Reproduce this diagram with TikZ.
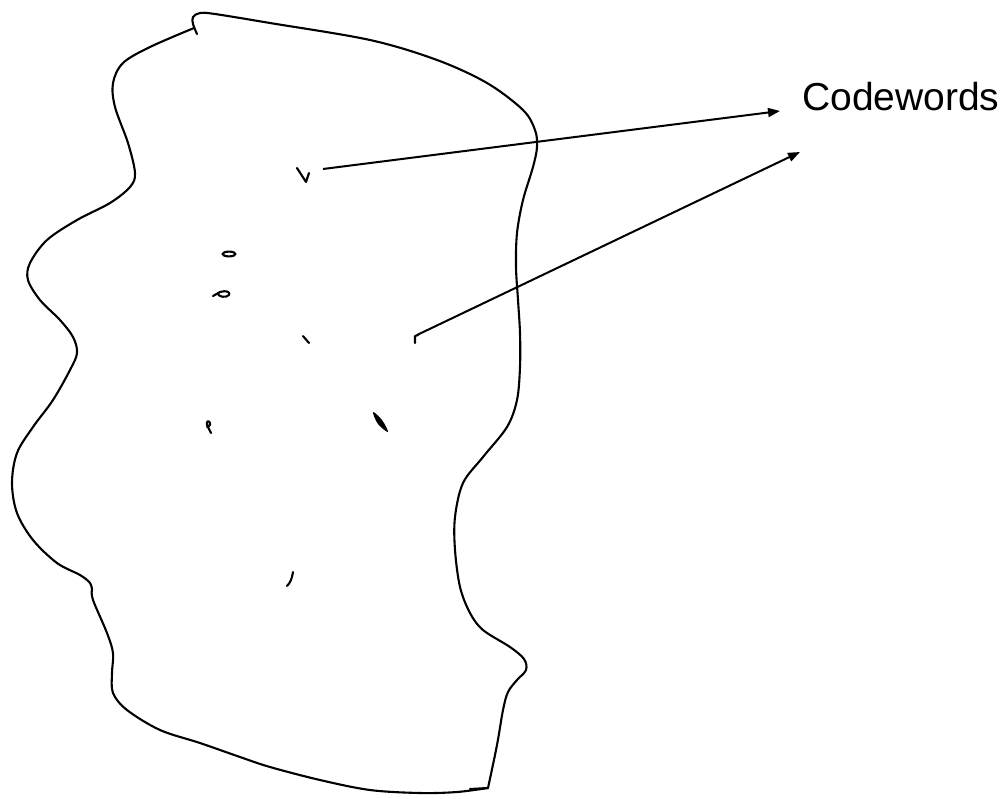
\documentclass[tikz,border=0pt]{standalone}
\usepackage{fontspec}
\setmainfont{Liberation Sans}
\usetikzlibrary{arrows.meta}
\begin{document}
\begin{tikzpicture}[x=1pt,y=-1pt,
  outline/.style={line width=2.1pt,line join=round,line cap=round},
  scribble/.style={line width=2.1pt,line cap=round,line join=round},
  pointer/.style={line width=2pt,-{Triangle[length=12pt,width=9pt]}},
  wordlabel/.style={font=\fontsize{39}{46}\selectfont,inner sep=0pt,anchor=base west}]
\useasboundingbox (0,0) rectangle (1006,798);
% blob outline
\draw[outline] plot[smooth,tension=0.55] coordinates {(197,34) (193,24) (193,17) (200,13) (215,14) (270,23) (370,40) (437,60) (487,83) (523,110) (535,130) (537,147) (533,167) (523,200) (517,233) (516,267) (518,300) (520,333) (520,367) (517,400) (507,427) (483,457) (463,483) (455,517) (455,550) (460,587) (470,613) (483,630) (510,647) (524,659) (526,670) (517,680) (508,692) (503,710) (497,745) (488,788)};
\draw[outline] plot[smooth,tension=0.55] coordinates {(470,789) (488,788)};
\draw[outline] plot[smooth,tension=0.55] coordinates {(488,788) (457,792) (420,793) (370,790) (320,780) (270,767) (240,757) (200,743) (160,730) (127,710) (113,693) (112,673) (113,653) (107,633) (93,600) (92,590)};
\draw[outline] plot[smooth,tension=0.55] coordinates {(92,590) (90,583) (80,575) (57,563) (33,540) (17,513) (12,483) (17,453) (33,427) (53,400) (70,370) (77,353) (73,337) (60,320) (40,300) (28,280) (30,263) (47,240) (77,220) (110,203) (130,187) (135,173) (128,143) (115,107) (113,83) (123,63) (150,47) (194,28)};
% small marks (codewords)
\draw[scribble] (297,168) -- (306,182) -- (309,173);
\draw[scribble] (229,254) ellipse [x radius=6.5pt,y radius=2.4pt];
\draw[scribble] (213,296) -- (220,292) .. controls (226,290) and (231,292) .. (229,295) .. controls (226,298) and (219,297) .. (218,294);
\draw[scribble] (303,336) -- (309,343);
\draw[scribble] (211,433) -- (207,425) .. controls (206,421) and (209,420) .. (210,423) .. controls (211,426) and (207,427) .. (207,427);
\fill plot[smooth cycle,tension=0.6] coordinates {(373,412) (382,420) (388,432) (378,424)};
\draw[scribble] (293,572) .. controls (292,579) and (290,583) .. (287,586);
\draw[scribble] (415,343) -- (415,336) -- (418,335);
% label and pointers
\node[wordlabel] (cw) at (802,110) {Codewords};
\coordinate (s1) at (323,169);
\coordinate (e1) at (780,111);
\coordinate (s2) at (417,335);
\coordinate (e2) at (800,152);
\draw[pointer] (s1) -- (e1);
\draw[pointer] (s2) -- (e2);
\end{tikzpicture}
\end{document}
